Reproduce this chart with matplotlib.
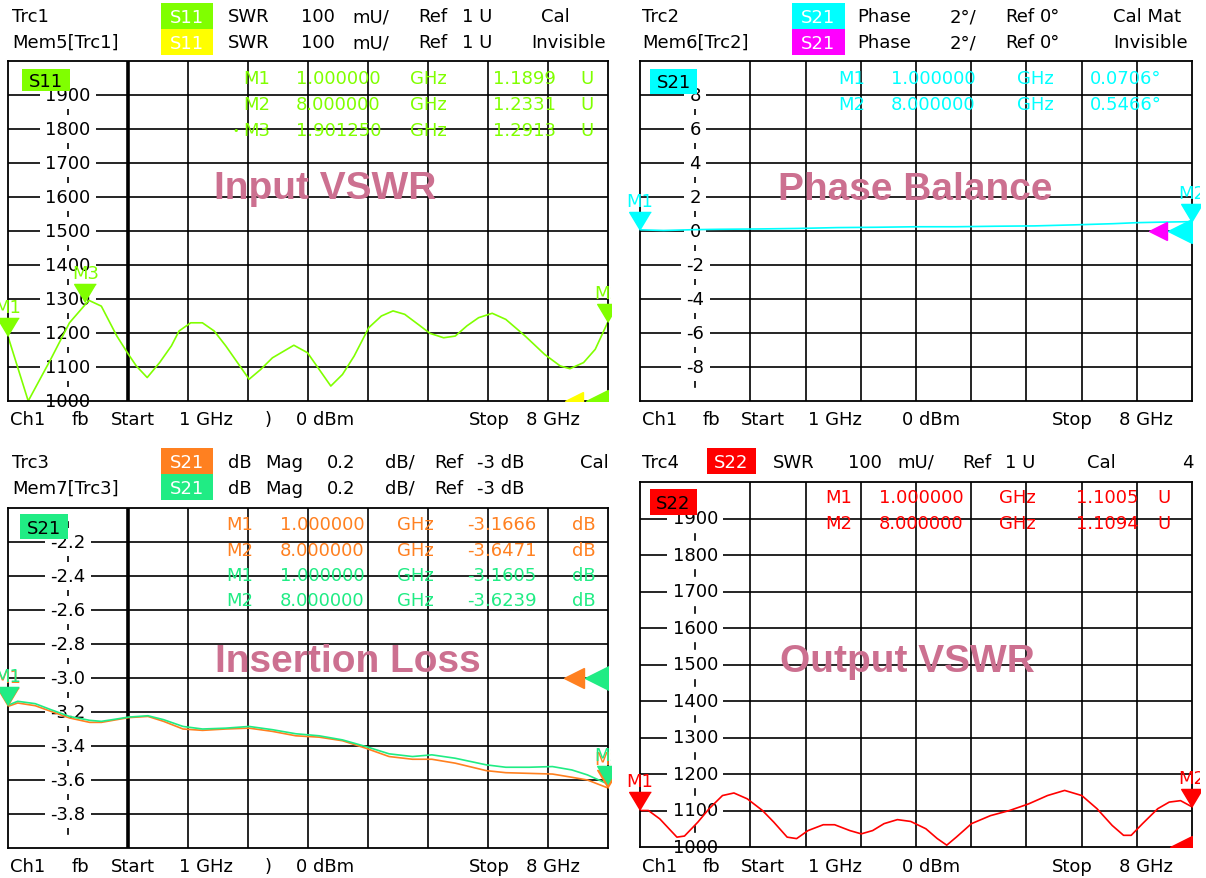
# VNA screenshot: 4 panels (input VSWR, phase balance, insertion loss, output VSWR)
import numpy as np
import matplotlib.pyplot as plt
from matplotlib.patches import Rectangle
from matplotlib.transforms import Bbox, TransformedBbox

W, H = 1206, 879
plt.rcParams['font.family'] = ['DejaVu Sans']

# ---- data ----
s11_f = [1.000, 1.236, 1.499, 1.717, 1.944, 2.089, 2.270, 2.406, 2.497, 2.624,
         2.769, 2.906, 2.996, 3.132, 3.268, 3.405, 3.541, 3.677, 3.813, 3.949,
         4.085, 4.335, 4.494, 4.630, 4.766, 4.902, 5.038, 5.210, 5.356, 5.492,
         5.628, 5.787, 5.923, 6.082, 6.218, 6.354, 6.490, 6.649, 6.808, 7.034,
         7.261, 7.443, 7.556, 7.715, 7.851, 8.000]
s11_swr = [1.190, 1.000, 1.123, 1.230, 1.296, 1.279, 1.191, 1.137, 1.103, 1.069,
           1.113, 1.162, 1.206, 1.230, 1.230, 1.206, 1.162, 1.113, 1.064, 1.093,
           1.127, 1.164, 1.142, 1.093, 1.044, 1.078, 1.132, 1.216, 1.250, 1.265,
           1.255, 1.225, 1.199, 1.186, 1.191, 1.221, 1.245, 1.258, 1.240, 1.191,
           1.137, 1.103, 1.095, 1.113, 1.152, 1.233]

ph_f = [1.0, 1.3, 1.7, 2.0, 2.5, 3.0, 3.5, 4.0, 4.5, 5.0, 5.5, 6.0, 6.5, 7.0, 7.3, 7.6, 8.0]
ph_deg = [0.07, 0.03, 0.08, 0.10, 0.12, 0.15, 0.20, 0.22, 0.25, 0.25, 0.28, 0.30, 0.36,
          0.43, 0.49, 0.52, 0.55]

il_f = [1.000, 1.113, 1.318, 1.499, 1.717, 1.953, 2.089, 2.270, 2.406, 2.633,
        2.815, 3.042, 3.269, 3.541, 3.813, 4.085, 4.358, 4.630, 4.902, 5.174,
        5.446, 5.719, 5.945, 6.218, 6.581, 6.808, 7.080, 7.352, 7.579, 7.760, 8.000]
il_trc = [-3.167, -3.147, -3.163, -3.196, -3.235, -3.261, -3.261, -3.245, -3.233, -3.226,
          -3.255, -3.300, -3.308, -3.300, -3.295, -3.314, -3.340, -3.348, -3.369, -3.413,
          -3.462, -3.478, -3.478, -3.501, -3.545, -3.557, -3.561, -3.565, -3.584, -3.600, -3.647]
il_mem = [-3.160, -3.137, -3.151, -3.186, -3.226, -3.249, -3.255, -3.241, -3.230, -3.222,
          -3.245, -3.285, -3.300, -3.295, -3.285, -3.304, -3.328, -3.340, -3.364, -3.403,
          -3.446, -3.462, -3.452, -3.472, -3.511, -3.525, -3.525, -3.521, -3.541, -3.570, -3.624]

s22_f = [1.000, 1.106, 1.251, 1.468, 1.564, 1.733, 1.877, 2.046, 2.191, 2.360,
         2.553, 2.697, 2.866, 2.986, 3.131, 3.324, 3.468, 3.661, 3.806, 3.950,
         4.095, 4.264, 4.433, 4.625, 4.770, 4.890, 5.011, 5.204, 5.445, 5.686,
         5.927, 6.168, 6.385, 6.602, 6.795, 6.988, 7.132, 7.229, 7.373, 7.566,
         7.711, 7.855, 8.000]
s22_swr = [1.100, 1.100, 1.077, 1.027, 1.030, 1.068, 1.105, 1.141, 1.148, 1.132,
           1.100, 1.068, 1.027, 1.023, 1.045, 1.061, 1.061, 1.045, 1.036, 1.045,
           1.064, 1.075, 1.070, 1.050, 1.023, 1.005, 1.027, 1.064, 1.086, 1.100,
           1.118, 1.141, 1.155, 1.141, 1.105, 1.059, 1.032, 1.032, 1.064, 1.105,
           1.123, 1.127, 1.110]

swr_ticks = ["1000", "1100", "1200", "1300", "1400", "1500", "1600", "1700", "1800", "1900"]
ph_ticks = ["-10", "-8", "-6", "-4", "-2", "0", "2", "4", "6", "8"]
il_ticks = ["-4.0", "-3.8", "-3.6", "-3.4", "-3.2", "-3.0", "-2.8", "-2.6", "-2.4", "-2.2"]

GREEN = '#80ff00'
YELLOW = '#ffff00'
CYAN = '#00ffff'
MAGENTA = '#ff00ff'
ORANGE = '#ff8020'
SPRING = '#20ec84'
RED = '#ff0000'
PINK = '#cc7090'
FS = 13
TITLE = dict(fontsize=28, fontweight='bold', family='Liberation Sans', ha='center')

fig = plt.figure(figsize=(W / 100, H / 100), dpi=100)


def rect_px(x0, y0, x1, y1, **kw):
    return Rectangle((x0 / W, 1 - y1 / H), (x1 - x0) / W, (y1 - y0) / H,
                     transform=fig.transFigure, **kw)


def clip_px(x0, y0, x1, y1):
    return TransformedBbox(Bbox.from_extents(x0 / W, 1 - y1 / H, x1 / W, 1 - y0 / H),
                           fig.transFigure)


def txt(x, y, s, color='black', clip=None, **kw):
    kw.setdefault('fontsize', FS)
    t = fig.text(x / W, 1 - y / H, s, color=color, va='center', **kw)
    if clip is not None:
        t.set_clip_box(clip)
        t.set_clip_on(True)
    return t


def tag(x0, y0, x1, y1, s, bg, fg='white'):
    fig.add_artist(rect_px(x0, y0, x1, y1, facecolor=bg, edgecolor='none', zorder=2))
    txt((x0 + x1) / 2, (y0 + y1) / 2 + 1, s, color=fg, ha='center', zorder=4)


tri = [(0, 0), (-0.6, 1), (0.6, 1)]   # marker triangle, tip on the trace


def panel(box, ylo, yhi, ticks, thick, show_bottom):
    x0, y0, x1, y1 = box
    ax = fig.add_axes([x0 / W, 1 - y1 / H, (x1 - x0) / W, (y1 - y0) / H])
    ax.set_xlim(1, 8)
    ax.set_ylim(ylo, yhi)
    ax.set_xticks([])
    ax.set_yticks([])
    for sp in ax.spines.values():
        sp.set_linewidth(1.3)
        sp.set_zorder(5)
    step = (yhi - ylo) / 10
    for i in range(2, 10):
        ax.axvline(1 + 0.7 * i, color='black', lw=1.2, zorder=1)
    if thick:
        ax.axvline(2.4, color='black', lw=2.6, zorder=1)
    for k in range(1, 10):
        ax.axhline(ylo + k * step, color='black', lw=1.2, zorder=1)
    # label column with short dashes between the labels
    for k in range(10):
        mid = ylo + (k + 0.5) * step
        ax.plot([1.7, 1.7], [mid - 0.08 * step, mid + 0.08 * step], color='black', lw=1.2, zorder=1)
    for k, lab in enumerate(ticks):
        if k == 0 and not show_bottom:
            continue
        t = ax.text(1.7, ylo + k * step, lab, ha='center', va='center', fontsize=FS,
                    zorder=2, bbox=dict(boxstyle='square,pad=0.3', fc='white', ec='none'))
        t.set_clip_path(ax.patch)
    return ax


def marker(ax, f, v, name, color, win):
    clip = rect_px(*win)
    ln, = ax.plot([f], [v], marker=tri, ms=26, color=color, lw=0, zorder=6)
    ln.set_clip_path(clip)
    a = ax.annotate(name, (f, v), xytext=(0, 21), textcoords='offset points', ha='center',
                    va='center', color=color, fontsize=FS, annotation_clip=False, zorder=6)
    a.set_clip_path(clip)


def ref_arrow(ax, f, v, color, ms):
    ax.plot([f], [v], marker='<', ms=ms, color=color, lw=0, zorder=6)


def words(xs, y, items, color='black', clip=None):
    for x, w in zip(xs, items):
        txt(x, y, w, color, clip=clip)


# ---------- Input VSWR (top left) ----------
win_tl = (0, 0, 611, 440)
clip_tl = clip_px(*win_tl)
ax1 = panel((8, 62, 608, 402), 1.0, 2.0, swr_ticks, True, True)
ax1.plot(s11_f, s11_swr, color=GREEN, lw=1.2, zorder=4)
ref_arrow(ax1, 7.60, 1.0, YELLOW, 13)
ref_arrow(ax1, 7.87, 1.0, GREEN, 16)
marker(ax1, 1.0, 1.1899, "M1", GREEN, win_tl)
marker(ax1, 1.90125, 1.2913, "M3", GREEN, win_tl)
marker(ax1, 8.0, 1.2331, "M2", GREEN, win_tl)
words([12, 228, 301, 352, 418, 462, 541], 17,
      ["Trc1", "SWR", "100", "mU/", "Ref", "1 U", "Cal"], clip=clip_tl)
words([12, 228, 301, 352, 418, 462, 531], 43,
      ["Mem5[Trc1]", "SWR", "100", "mU/", "Ref", "1 U", "Invisible"], clip=clip_tl)
tag(161, 4, 213, 30, "S11", GREEN)
tag(161, 30, 213, 56, "S11", YELLOW)
tag(22, 70, 70, 92, "S11", GREEN, 'black')
for row, (m, fq, val) in enumerate([("M1", "1.000000", "1.1899"),
                                    ("M2", "8.000000", "1.2331"),
                                    ("M3", "1.901250", "1.2913")]):
    words([243, 296, 410, 493, 580], 79 + 26 * row, [m, fq, "GHz", val, "U"], GREEN)
txt(232, 131, "•", GREEN, fontsize=8)
txt(325, 189, "Input VSWR", PINK, **TITLE)
words([10, 72, 111, 179, 265, 296, 469, 526], 420,
      ["Ch1", "fb", "Start", "1 GHz", ")", "0 dBm", "Stop", "8 GHz"])

# ---------- Phase Balance (top right) ----------
win_tr = (612, 0, 1200, 440)
clip_tr = clip_px(612, 0, 1206, 440)
ax2 = panel((640, 62, 1192, 402), -10, 10, ph_ticks, False, False)
ax2.plot(ph_f, ph_deg, color=CYAN, lw=1.2, zorder=4)
ref_arrow(ax2, 7.57, 0.0, MAGENTA, 13)
ref_arrow(ax2, 7.85, 0.0, CYAN, 17)
marker(ax2, 1.0, 0.0706, "M1", CYAN, win_tr)
marker(ax2, 8.0, 0.5466, "M2", CYAN, win_tr)
words([642, 857, 950, 1005, 1040, 1113], 17,
      ["Trc2", "Phase", "2°/", "Ref", "0°", "Cal Mat"], clip=clip_tr)
words([642, 857, 950, 1005, 1040, 1113], 43,
      ["Mem6[Trc2]", "Phase", "2°/", "Ref", "0°", "Invisible"], clip=clip_tr)
tag(792, 4, 845, 30, "S21", CYAN)
tag(792, 30, 845, 56, "S21", MAGENTA)
tag(650, 70, 697, 95, "S21", CYAN, 'black')
for row, (m, fq, val) in enumerate([("M1", "1.000000", "0.0706°"),
                                    ("M2", "8.000000", "0.5466°")]):
    words([838, 891, 1017, 1090], 79 + 26 * row, [m, fq, "GHz", val], CYAN)
txt(915, 190, "Phase Balance", PINK, **TITLE)
words([642, 703, 741, 808, 902, 1052, 1119], 420,
      ["Ch1", "fb", "Start", "1 GHz", "0 dBm", "Stop", "8 GHz"])

# ---------- Insertion Loss (bottom left) ----------
win_bl = (0, 440, 611, 879)
clip_bl = clip_px(*win_bl)
ax3 = panel((8, 509, 608, 849), -4.0, -2.0, il_ticks, True, False)
ax3.plot(il_f, il_trc, color=ORANGE, lw=1.2, zorder=4)
ax3.plot(il_f, il_mem, color=SPRING, lw=1.2, zorder=4)
ref_arrow(ax3, 7.60, -3.0, ORANGE, 14)
ref_arrow(ax3, 7.87, -3.0, SPRING, 17)
marker(ax3, 1.0, -3.1666, "M1", ORANGE, win_bl)
marker(ax3, 8.0, -3.6471, "M2", ORANGE, win_bl)
marker(ax3, 1.0, -3.1605, "M1", SPRING, win_bl)
marker(ax3, 8.0, -3.6239, "M2", SPRING, win_bl)
words([12, 228, 265, 327, 385, 434, 477, 580], 463,
      ["Trc3", "dB", "Mag", "0.2", "dB/", "Ref", "-3 dB", "Cal"], clip=clip_bl)
words([12, 228, 265, 327, 385, 434, 477], 489,
      ["Mem7[Trc3]", "dB", "Mag", "0.2", "dB/", "Ref", "-3 dB"], clip=clip_bl)
tag(161, 449, 213, 475, "S21", ORANGE)
tag(161, 475, 213, 501, "S21", SPRING)
tag(20, 515, 68, 540, "S21", SPRING, 'black')
for row, (m, fq, val, c) in enumerate([("M1", "1.000000", "-3.1666", ORANGE),
                                       ("M2", "8.000000", "-3.6471", ORANGE),
                                       ("M1", "1.000000", "-3.1605", SPRING),
                                       ("M2", "8.000000", "-3.6239", SPRING)]):
    words([226, 280, 397, 467, 572], 525 + 25.5 * row, [m, fq, "GHz", val, "dB"], c)
txt(348, 662, "Insertion Loss", PINK, **TITLE)
words([10, 72, 111, 179, 265, 296, 469, 526], 867,
      ["Ch1", "fb", "Start", "1 GHz", ")", "0 dBm", "Stop", "8 GHz"])

# ---------- Output VSWR (bottom right) ----------
win_br = (612, 440, 1200, 879)
ax4 = panel((640, 483, 1192, 848), 1.0, 2.0, swr_ticks, False, True)
ax4.plot(s22_f, s22_swr, color=RED, lw=1.2, zorder=4)
ref_arrow(ax4, 7.86, 1.0, RED, 16)
marker(ax4, 1.0, 1.1005, "M1", RED, win_br)
marker(ax4, 8.0, 1.1094, "M2", RED, win_br)
words([642, 773, 848, 897, 962, 1005, 1087, 1182], 463,
      ["Trc4", "SWR", "100", "mU/", "Ref", "1 U", "Cal", "4"], clip=clip_px(612, 440, 1206, 879))
tag(707, 449, 756, 475, "S22", RED)
tag(650, 490, 697, 516, "S22", RED, 'black')
for row, (m, fq, val) in enumerate([("M1", "1.000000", "1.1005"),
                                    ("M2", "8.000000", "1.1094")]):
    words([825, 879, 999, 1076, 1157], 498 + 26 * row, [m, fq, "GHz", val, "U"], RED)
txt(907, 662, "Output VSWR", PINK, **TITLE)
words([642, 703, 741, 808, 902, 1052, 1119], 867,
      ["Ch1", "fb", "Start", "1 GHz", "0 dBm", "Stop", "8 GHz"])

fig.savefig("out.png", dpi=100, facecolor='white')
